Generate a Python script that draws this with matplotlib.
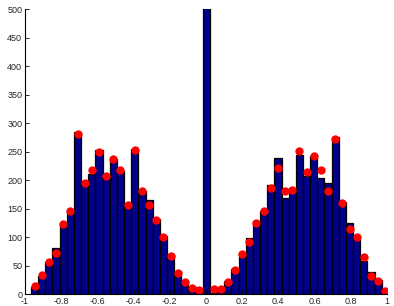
import numpy as np
import matplotlib
matplotlib.use('Agg')
import matplotlib.pyplot as plt

# histogram counts, 50 bins; central bin goes past the top
counts = [13, 32, 57, 82, 123, 148, 285, 198, 212, 254,
          206, 237, 217, 155, 255, 181, 165, 132, 102, 71,
          39, 24, 13, 9, 600,
          3, 10, 24, 44, 71, 99, 129, 147, 192, 240,
          169, 186, 245, 208, 243, 204, 195, 277, 162, 125,
          98, 58, 39, 26, 9]

# red points, one per bin (none drawn on the central bin)
points = [15, 34, 56, 72, 124, 147, 282, 195, 218, 249,
          208, 237, 218, 157, 254, 182, 156, 130, 101, 67,
          38, 22, 12, 8, np.nan,
          10, 10, 22, 43, 71, 92, 125, 147, 186, 222,
          181, 183, 252, 214, 242, 218, 181, 272, 161, 114,
          101, 65, 33, 23, 6]

x_min, x_max = -0.967, 1.011
xticks = [-1, -0.8, -0.6, -0.4, -0.2, 0, 0.2, 0.4, 0.6, 0.8, 1]
xticklabels = ['-1', '-0.8', '-0.6', '-0.4', '-0.2', '0', '0.2', '0.4', '0.6', '0.8', '1']
yticks = list(range(0, 501, 50))

edges = np.linspace(x_min, x_max, len(counts) + 1)
centers = (edges[:-1] + edges[1:]) / 2

plt.rcParams['font.family'] = ['Liberation Sans', 'DejaVu Sans']

fig = plt.figure(figsize=(3.94, 3.06), dpi=100)
ax = fig.add_axes([0.0635, 0.038, 0.9185, 0.931])

ax.bar(edges[:-1], counts, width=np.diff(edges), align='edge',
       color='#000088', edgecolor='black', linewidth=0.9)
ax.plot(centers, points, 'o', color='red', markersize=6, markeredgewidth=0)

ax.set_xlim(-1, 1)
ax.set_ylim(0, 500)
ax.set_xticks(xticks)
ax.set_xticklabels(xticklabels)
ax.set_yticks(yticks)

for side in ['top', 'right']:
    ax.spines[side].set_visible(False)
ax.spines['left'].set_linewidth(0.8)
ax.spines['bottom'].set_linewidth(0.8)
ax.tick_params(direction='in', length=3, width=0.6, labelsize=6.5, pad=2,
               labelcolor='#262626')

fig.savefig('out.png', dpi=100)
